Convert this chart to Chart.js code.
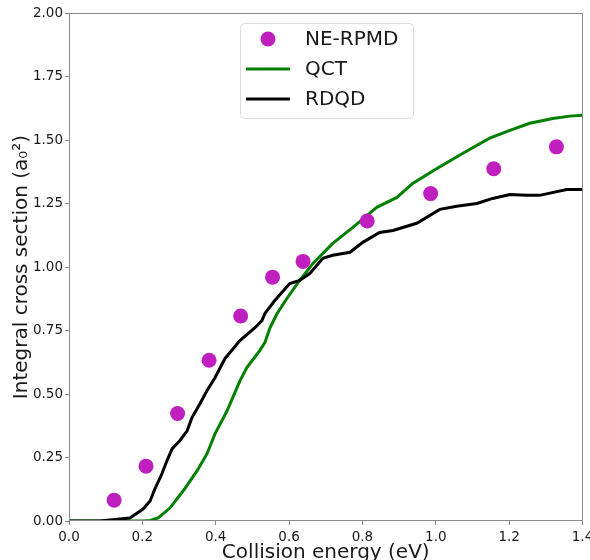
<!DOCTYPE html>
<html>
<head>
<meta charset="utf-8">
<script src="https://cdn.jsdelivr.net/npm/chart.js@4.4.1/dist/chart.umd.min.js"></script>
<style>
  html, body { margin: 0; padding: 0; background: #fff; overflow: hidden; }
  canvas { display: block; }
</style>
</head>
<body>
<canvas id="c" width="590" height="580"></canvas>
<script>
// ---- Data ----
const rpmdEnergy = [0.123, 0.210, 0.296, 0.382, 0.468, 0.555, 0.638, 0.813, 0.986, 1.158, 1.329];
const rpmdSigma  = [0.082, 0.216, 0.423, 0.633, 0.807, 0.960, 1.022, 1.181, 1.289, 1.387, 1.473];

const qctEnergy = [0.000, 0.100, 0.202, 0.221, 0.243, 0.275, 0.311, 0.349, 0.376, 0.398, 0.431, 0.466, 0.485, 0.520, 0.534, 0.548, 0.567, 0.594, 0.629, 0.665, 0.719, 0.774, 0.839, 0.894, 0.937, 1.003, 1.074, 1.147, 1.202, 1.256, 1.319, 1.365, 1.400];
const qctSigma  = [0.000, 0.000, 0.000, 0.002, 0.012, 0.051, 0.118, 0.197, 0.264, 0.343, 0.434, 0.552, 0.604, 0.671, 0.702, 0.761, 0.816, 0.876, 0.947, 1.014, 1.093, 1.156, 1.235, 1.274, 1.329, 1.388, 1.448, 1.507, 1.538, 1.566, 1.585, 1.594, 1.597];

const rdqdEnergy = [0.000, 0.084, 0.166, 0.202, 0.221, 0.234, 0.253, 0.267, 0.281, 0.302, 0.322, 0.335, 0.357, 0.376, 0.398, 0.425, 0.466, 0.507, 0.526, 0.534, 0.561, 0.602, 0.629, 0.657, 0.692, 0.719, 0.766, 0.801, 0.847, 0.883, 0.948, 1.011, 1.057, 1.112, 1.155, 1.202, 1.248, 1.283, 1.357, 1.400];
const rdqdSigma  = [0.000, 0.000, 0.012, 0.047, 0.079, 0.126, 0.185, 0.237, 0.284, 0.316, 0.355, 0.406, 0.462, 0.513, 0.564, 0.639, 0.710, 0.761, 0.789, 0.817, 0.868, 0.935, 0.947, 0.975, 1.034, 1.046, 1.058, 1.097, 1.136, 1.144, 1.172, 1.227, 1.239, 1.250, 1.270, 1.285, 1.282, 1.282, 1.305, 1.305];

const seriesLabels = ['NE-RPMD', 'QCT', 'RDQD'];
const xTitle = 'Collision energy (eV)';
const yTitle = 'Integral cross section (a\u2080\u00B2)';

const toXY = (xs, ys) => xs.map((x, i) => ({ x: x, y: ys[i] }));

const FONT = "'DejaVu Sans', 'Liberation Sans', sans-serif";
const AXIS_GRAY = '#8a8a8a';

const framePlugin = {
  id: 'frame',
  afterDatasetsDraw(chart) {
    const { ctx, chartArea: a } = chart;
    ctx.save();
    ctx.strokeStyle = AXIS_GRAY;
    ctx.lineWidth = 1;
    ctx.strokeRect(Math.round(a.left) + 0.5, Math.round(a.top) + 0.5,
                   Math.round(a.right - a.left) - 1, Math.round(a.bottom - a.top) - 1);
    ctx.restore();
  }
};

const boxLegend = {
  id: 'boxLegend',
  afterDraw(chart) {
    const ctx = chart.ctx;
    const ds = chart.data.datasets;
    ctx.save();
    const x0 = 240.5, y0 = 23.5, w = 173, h = 95;
    ctx.beginPath();
    ctx.roundRect(x0, y0, w, h, 4);
    ctx.fillStyle = 'rgba(255,255,255,0.85)';
    ctx.fill();
    ctx.strokeStyle = '#dcdcdc';
    ctx.lineWidth = 1;
    ctx.stroke();
    const rows = [39, 69, 99];
    ctx.font = "20px " + FONT;
    ctx.textBaseline = 'middle';
    ctx.textAlign = 'left';
    ds.forEach((d, i) => {
      const y = rows[i];
      if (d.showLine === false) {
        ctx.beginPath();
        ctx.arc(268, y, 7.5, 0, Math.PI * 2);
        ctx.fillStyle = d.backgroundColor;
        ctx.fill();
      } else {
        ctx.beginPath();
        ctx.moveTo(246, y);
        ctx.lineTo(290, y);
        ctx.strokeStyle = d.borderColor;
        ctx.lineWidth = 3;
        ctx.stroke();
      }
      ctx.fillStyle = '#1a1a1a';
      ctx.fillText(d.label, 305, y + 1);
    });
    ctx.restore();
  }
};

new Chart(document.getElementById('c'), {
  type: 'scatter',
  data: {
    datasets: [
      {
        label: seriesLabels[0],
        data: toXY(rpmdEnergy, rpmdSigma),
        showLine: false,
        pointRadius: 7.5,
        pointHoverRadius: 7.5,
        backgroundColor: '#bf1fbf',
        borderColor: '#bf1fbf',
        borderWidth: 0,
        order: 0
      },
      {
        label: seriesLabels[1],
        data: toXY(qctEnergy, qctSigma),
        showLine: true,
        borderColor: '#008000',
        backgroundColor: '#008000',
        borderWidth: 3,
        pointRadius: 0,
        tension: 0,
        order: 2
      },
      {
        label: seriesLabels[2],
        data: toXY(rdqdEnergy, rdqdSigma),
        showLine: true,
        borderColor: '#000000',
        backgroundColor: '#000000',
        borderWidth: 3,
        pointRadius: 0,
        tension: 0,
        order: 1
      }
    ]
  },
  options: {
    responsive: false,
    animation: false,
    devicePixelRatio: 1,
    layout: { padding: { top: 13, right: 6, left: 0, bottom: 0 } },
    plugins: {
      legend: { display: false },
      tooltip: { enabled: false }
    },
    scales: {
      x: {
        type: 'linear',
        min: 0, max: 1.4,
        border: { display: false },
        grid: { display: true, drawOnChartArea: false, drawTicks: true, tickLength: 4, tickColor: AXIS_GRAY },
        ticks: {
          stepSize: 0.2,
          padding: 4,
          color: '#1a1a1a',
          font: { family: FONT, size: 13.5 },
          maxRotation: 0,
          callback: v => Number(v).toFixed(1)
        },
        title: {
          display: true,
          text: xTitle,
          color: '#1a1a1a',
          font: { family: FONT, size: 20 },
          padding: { top: 0, bottom: 15 }
        },
        afterFit(s) { s.height = 59; s.paddingLeft = 0; s.paddingRight = 0; }
      },
      y: {
        type: 'linear',
        min: 0, max: 2,
        border: { display: false },
        grid: { display: true, drawOnChartArea: false, drawTicks: true, tickLength: 4, tickColor: AXIS_GRAY },
        ticks: {
          stepSize: 0.25,
          padding: 2,
          color: '#1a1a1a',
          font: { family: FONT, size: 13.5 },
          callback: v => Number(v).toFixed(2)
        },
        title: {
          display: true,
          text: yTitle,
          color: '#1a1a1a',
          font: { family: FONT, size: 20 },
          padding: { top: 10, bottom: 0 }
        },
        afterFit(s) { s.width = 69; s.paddingTop = 0; s.paddingBottom = 0; }
      }
    }
  },
  plugins: [framePlugin, boxLegend]
});
</script>
</body>
</html>
